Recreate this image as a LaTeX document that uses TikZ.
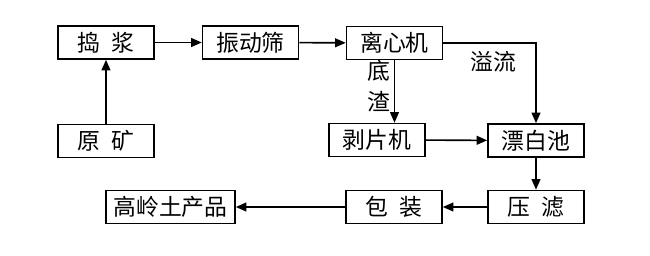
\documentclass[tikz,border=0pt]{standalone}
\usepackage{fontspec}
\usepackage{tikz}
\newfontfamily\cjk{Noto Sans CJK SC}
\usetikzlibrary{arrows.meta}

\begin{document}
\begin{tikzpicture}[x=0.02cm, y=-0.02cm,
    box/.style={draw, line width=0.9pt, minimum width=1.92cm, minimum height=0.66cm, inner sep=0pt, font=\cjk\fontsize{13}{15}\selectfont},
    arrow/.style={-{Triangle[length=6pt, width=5pt]}, line width=0.9pt},
    lbl/.style={align=center, inner sep=0pt, font=\cjk\fontsize{13}{17.5}\selectfont}
  ]
    \useasboundingbox (0,0) rectangle (650,256);

    \node[box] (daojiang) at (106,42.5) {捣\enspace 浆};
    \node[box] (shai) at (250.5,42.5) {振动筛};
    \node[box] (lixin) at (394.5,43) {离心机};
    \node[box] (yuankuang) at (106,141) {原\enspace 矿};
    \node[box] (bopian) at (377,140) {剥片机};
    \node[box] (piaobai) at (536,140.5) {漂白池};
    \node[box] (yalv) at (536,207) {压\enspace 滤};
    \node[box] (baozhuang) at (394,207) {包\enspace 装};
    \node[box, minimum width=2.58cm] (chanpin) at (170.5,207) {高岭土产品};

    \node[lbl] (yiliu) at (493,62) {溢流};
    \node[lbl] (dizha) at (379,86) {底\\渣};

    \draw[arrow] (yuankuang) -- (daojiang);
    \draw[arrow] (daojiang) -- (shai);
    \draw[arrow] (shai) -- (lixin);
    \draw[arrow] (lixin.east) -| (piaobai.north);
    \draw[arrow] (lixin.south) -- (lixin.south |- bopian.north);
    \draw[arrow] (bopian) -- (piaobai);
    \draw[arrow] (piaobai) -- (yalv);
    \draw[arrow] (yalv) -- (baozhuang);
    \draw[arrow] (baozhuang) -- (chanpin);
  \end{tikzpicture}
\end{document}
